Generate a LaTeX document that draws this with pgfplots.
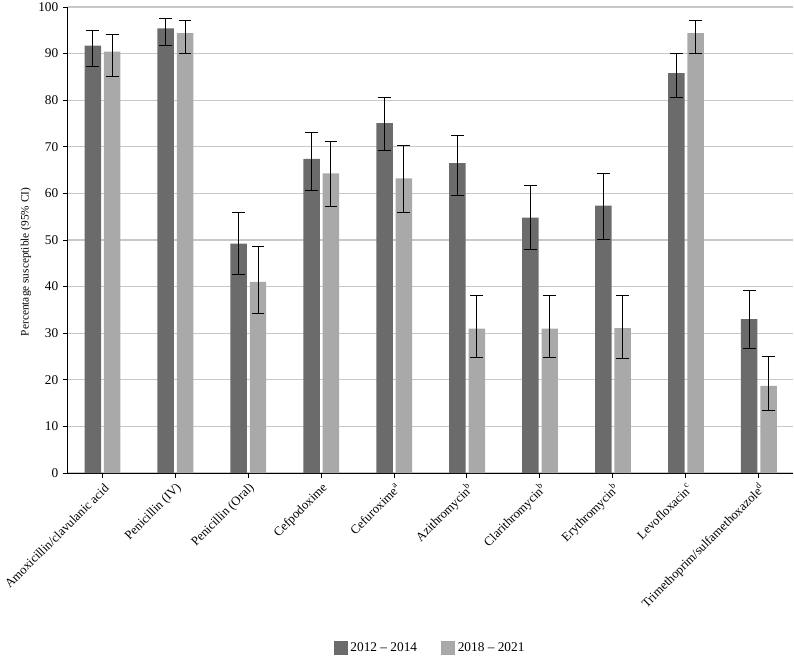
\documentclass[border=0pt]{standalone}
\usepackage{fontspec}
\setmainfont{Liberation Serif}
\usepackage{pgfplots}
\pgfplotsset{compat=1.18}
\usepackage{pgfplotstable}

\definecolor{darkbar}{HTML}{6B6B6B}
\definecolor{lightbar}{HTML}{A9A9A9}
\definecolor{gridgray}{HTML}{C8C8C8}

% x = antibiotic index, y = percentage susceptible, ep/em = upper/lower CI distance
\pgfplotstableread{
x  y     ep   em
0  91.7  3.3  4.4
1  95.4  2.2  3.6
2  49.2  6.8  6.6
3  67.4  5.7  6.7
4  75.1  5.4  6.0
5  66.5  6.0  6.9
6  54.8  6.9  6.8
7  57.4  6.8  7.2
8  85.8  4.3  5.3
9  33.0  6.2  6.2
}\early

\pgfplotstableread{
x  y     ep   em
0  90.4  3.8  5.3
1  94.4  2.7  4.4
2  41.0  7.6  6.8
3  64.3  6.8  7.1
4  63.2  7.0  7.2
5  31.0  7.1  6.3
6  31.0  7.1  6.3
7  31.1  7.0  6.5
8  94.4  2.7  4.3
9  18.7  6.3  5.3
}\late

\begin{document}
\begin{tikzpicture}
\begin{axis}[
  scale only axis,
  width=543.75pt, height=349.5pt,
  ybar,
  bar width=0.226,
  xmin=-0.47, xmax=9.47,
  ymin=0, ymax=100,
  ytick={0,10,...,100},
  xtick={0,...,9},
  xticklabels={
    Amoxicillin/clavulanic acid,
    Penicillin (IV),
    Penicillin (Oral),
    Cefpodoxime,
    Cefuroxime\textsuperscript{a},
    Azithromycin\textsuperscript{b},
    Clarithromycin\textsuperscript{b},
    Erythromycin\textsuperscript{b},
    Levofloxacin\textsuperscript{c},
    Trimethoprim/sulfamethoxazole\textsuperscript{d}},
  xticklabel style={rotate=45, anchor=east, xshift=1.5pt, yshift=-6.5pt,
    font=\fontsize{9.5}{11}\selectfont},
  yticklabel style={font=\fontsize{10}{12}\selectfont},
  /pgf/number format/assume math mode=true,
  axis x line*=bottom,
  axis y line*=left,
  axis line style={black, line width=0.75pt},
  tick align=outside,
  major tick length=3.75pt,
  tick style={black, line width=0.75pt},
  ymajorgrids,
  major grid style={gridgray, line width=0.9pt},
  ylabel={Percentage susceptible (95\% CI)},
  ylabel style={at={(axis description cs:-0.058,0.453)}, anchor=center,
    font=\fontsize{8.5}{10}\selectfont},
  legend style={at={(axis description cs:0.5,-0.3755)}, anchor=center,
    draw=none, font=\fontsize{10}{12}\selectfont,
    legend columns=2,
    /tikz/every even column/.append style={column sep=16pt}},
  legend image code/.code={\fill[#1] (0pt,-5.25pt) rectangle (10.5pt,5.25pt);},
  error bars/error bar style={black, line width=0.75pt},
  error bars/error mark options={rotate=90, mark size=4.8pt, line width=0.75pt, black},
]
\addplot[fill=darkbar, draw=none, bar shift=-0.13,
  error bars/.cd, y dir=both, y explicit]
  table[x=x, y=y, y error plus=ep, y error minus=em] {\early};
\addlegendentry{2012 -- 2014}
\addplot[fill=lightbar, draw=none, bar shift=0.135,
  error bars/.cd, y dir=both, y explicit]
  table[x=x, y=y, y error plus=ep, y error minus=em] {\late};
\addlegendentry{2018 -- 2021}
\end{axis}
\pgfresetboundingbox
\path[use as bounding box] (current axis.south west) ++(-51pt,-138.75pt) rectangle ++(595.5pt,493.5pt);
\end{tikzpicture}
\end{document}
